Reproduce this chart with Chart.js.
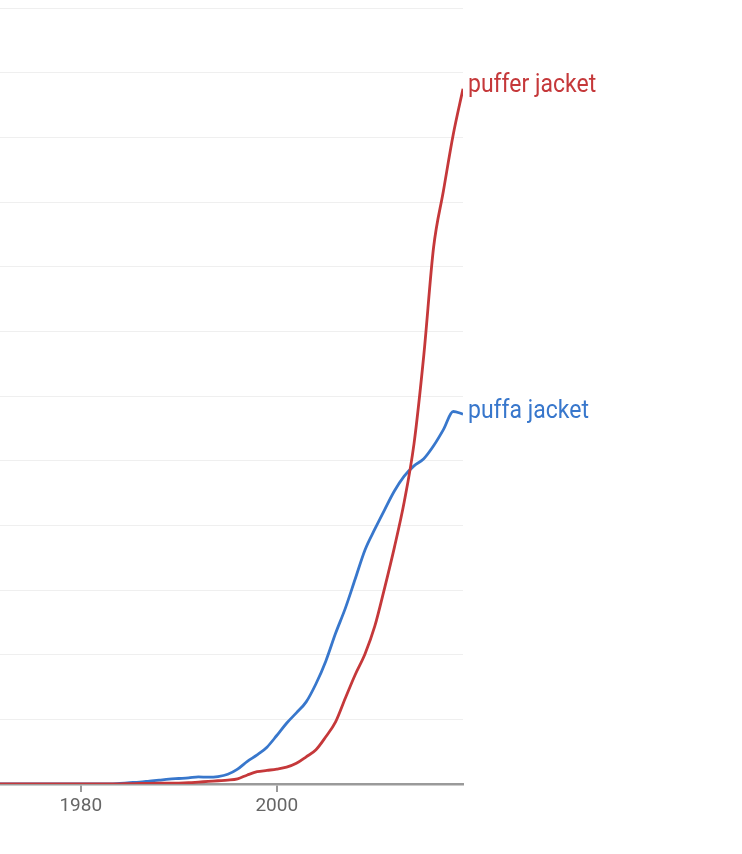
<!DOCTYPE html>
<html>
<head>
<meta charset="utf-8">
<script src="https://cdn.jsdelivr.net/npm/chart.js@4"></script>
<style>
  html, body { margin: 0; padding: 0; background: #fff; }
  #wrap { width: 742px; height: 854px; position: relative; }
</style>
</head>
<body>
<div id="wrap"><canvas id="c"></canvas></div>
<script>
const years = [];
for (let y = 1970; y <= 2019; y++) years.push(y);

const seriesNames = ["puffer jacket", "puffa jacket"];

const pufferJacket = [
  0, 0, 0, 0, 0, 0, 0, 0, 0, 0,            // 1970-1979
  0, 0, 0, 0, 0.003, 0.005, 0.008, 0.01, 0.012, 0.014, // 1980-1989
  0.015, 0.02, 0.03, 0.04, 0.05, 0.06, 0.08, 0.14, 0.19, 0.21, // 1990-1999
  0.23, 0.26, 0.32, 0.42, 0.53, 0.73, 0.96, 1.33, 1.69, 2.01, // 2000-2009
  2.44, 3.03, 3.66, 4.36, 5.26, 6.63, 8.30, 9.17, 10.04, 10.75 // 2010-2019
];

const puffaJacket = [
  0, 0, 0, 0, 0, 0, 0, 0, 0, 0,            // 1970-1979
  0, 0, 0, 0, 0.01, 0.02, 0.03, 0.045, 0.06, 0.075, // 1980-1989
  0.085, 0.095, 0.11, 0.105, 0.115, 0.15, 0.23, 0.35, 0.45, 0.57, // 1990-1999
  0.75, 0.94, 1.10, 1.27, 1.55, 1.90, 2.33, 2.72, 3.17, 3.62, // 2000-2009
  3.94, 4.24, 4.53, 4.76, 4.92, 5.03, 5.23, 5.48, 5.76, 5.72 // 2010-2019
];

const xTickLabels = [1980, 2000];

const RED = "#c5383a";
const BLUE = "#3877cc";

const toPoints = arr => arr.map((v, i) => ({ x: years[i], y: v }));

const endLabels = {
  id: "endLabels",
  afterDatasetsDraw(chart) {
    const ctx = chart.ctx;
    chart.data.datasets.forEach((ds, i) => {
      const meta = chart.getDatasetMeta(i);
      const pt = meta.data[meta.data.length - 1];
      ctx.save();
      ctx.translate(pt.x + 5, pt.y - 3);
      ctx.scale(1, 1.12);
      ctx.font = "23px Roboto";
      ctx.textBaseline = "middle";
      ctx.textAlign = "left";
      ctx.fillStyle = ds.borderColor;
      ctx.fillText(ds.label, 0, 0);
      ctx.restore();
    });
  }
};

new Chart(document.getElementById("c"), {
  type: "line",
  data: {
    datasets: [
      { label: seriesNames[0], data: toPoints(pufferJacket), borderColor: RED, borderWidth: 2.8,
        pointRadius: 0, fill: false, cubicInterpolationMode: "monotone" },
      { label: seriesNames[1], data: toPoints(puffaJacket), borderColor: BLUE, borderWidth: 2.8,
        pointRadius: 0, fill: false, cubicInterpolationMode: "monotone" }
    ]
  },
  options: {
    responsive: true,
    maintainAspectRatio: false,
    animation: false,
    layout: { padding: { left: 0, right: 279, top: 8, bottom: 30 } },
    plugins: { legend: { display: false }, tooltip: { enabled: false } },
    scales: {
      x: {
        type: "linear",
        min: 1971.76,
        max: 2019,
        afterBuildTicks: s => { s.ticks = xTickLabels.map(v => ({ value: v })); },
        afterFit: s => { s.height = 40; },
        grid: { display: true, drawOnChartArea: false, drawTicks: true, tickLength: 8,
                color: "#9a9a9a", lineWidth: 2 },
        border: { display: true, color: "#9a9a9a", width: 2.5 },
        ticks: { color: "#666", font: { family: "Roboto", size: 19 }, padding: 3,
                 maxRotation: 0, callback: v => String(v) }
      },
      y: {
        min: 0,
        max: 12,
        afterFit: s => { s.width = 0; },
        ticks: { display: false, stepSize: 1 },
        grid: { color: "#efefef", lineWidth: 1, drawTicks: false },
        border: { display: false }
      }
    }
  },
  plugins: [endLabels]
});
</script>
</body>
</html>
